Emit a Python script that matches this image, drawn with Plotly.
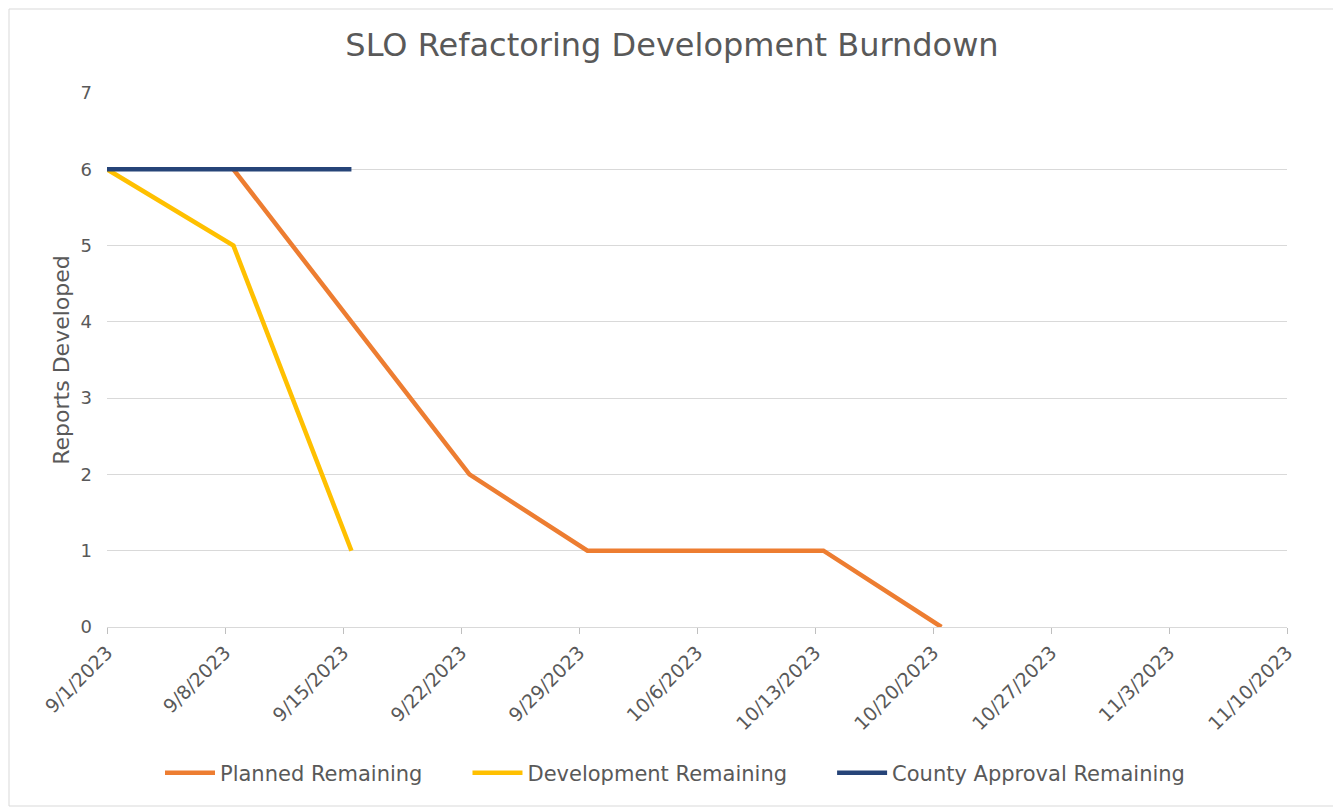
import plotly.graph_objects as go

dates = ["2023-09-01", "2023-09-08 12:00", "2023-09-15 12:00", "2023-09-22 12:00",
         "2023-09-29 12:00", "2023-10-06 12:00", "2023-10-13 12:00", "2023-10-20 12:00"]
planned = [None, 6, 4, 2, 1, 1, 1, 0]
development = [6, 5, 1]
county = [6, 6, 6]

series_names = ["Planned Remaining", "Development Remaining", "County Approval Remaining"]
colors = ["#ED7D31", "#FFC000", "#264478"]

font_family = "'DejaVu Sans', sans-serif"
text_color = "#595959"
pad = "\u00a0" * 6  # extra spacing between legend entries

fig = go.Figure()
fig.add_trace(go.Scatter(x=dates, y=planned, mode="lines", name=series_names[0] + pad,
                         line=dict(color=colors[0], width=4.5), connectgaps=False))
fig.add_trace(go.Scatter(x=dates[:len(development)], y=development, mode="lines", name=series_names[1] + pad,
                         line=dict(color=colors[1], width=4.5)))
fig.add_trace(go.Scatter(x=dates[:len(county)], y=county, mode="lines", name=series_names[2],
                         line=dict(color=colors[2], width=4.5)))

OFF = 8  # page body margin
W, H = 1341 - OFF, 810 - OFF
L, R, T, B = 107 - OFF, 54, 93 - OFF, 183
pw, ph = W - L - R, H - T - B

fig.update_layout(
    width=W, height=H,
    margin=dict(l=L, r=R, t=T, b=B),
    paper_bgcolor="white", plot_bgcolor="white",
    font=dict(family=font_family, color=text_color, size=14),
    title=dict(text="SLO Refactoring Development Burndown", x=(672 - OFF) / W, xanchor="center",
               y=1 - (45 - OFF) / H, yanchor="middle",
               font=dict(size=32, color=text_color, family=font_family)),
    showlegend=True,
    legend=dict(orientation="h", x=(160 - 107) / pw, xanchor="left", y=-(773 - 627) / ph,
                yanchor="middle", font=dict(size=21, color=text_color), itemwidth=50,
                traceorder="normal"),
    xaxis=dict(type="date", range=["2023-09-01", "2023-11-10"], tick0="2023-09-01",
               dtick=7 * 24 * 3600 * 1000, tickformat="%-m/%-d/%Y", tickangle=-45,
               showgrid=False, showline=True, linecolor="#d9d9d9", linewidth=1,
               ticks="outside", ticklen=6, tickcolor="#bfbfbf",
               tickfont=dict(size=19, color=text_color), zeroline=False),
    yaxis=dict(range=[0, 7], dtick=1, showgrid=True, gridcolor="#d9d9d9", gridwidth=1,
               zeroline=False, showline=False, ticks="", ticklabelstandoff=14,
               tickfont=dict(size=18, color=text_color),
               title=dict(text="Reports Developed", font=dict(size=22, color=text_color),
                          standoff=4)),
    shapes=[dict(type="rect", xref="paper", yref="paper",
                 x0=-(L - 1) / pw, x1=1 + (R - 4) / pw,
                 y0=-(B - 4) / ph, y1=1 + (T - 1) / ph,
                 line=dict(color="#d9d9d9", width=1), fillcolor="rgba(0,0,0,0)")],
)

fig.write_html("out.html")
